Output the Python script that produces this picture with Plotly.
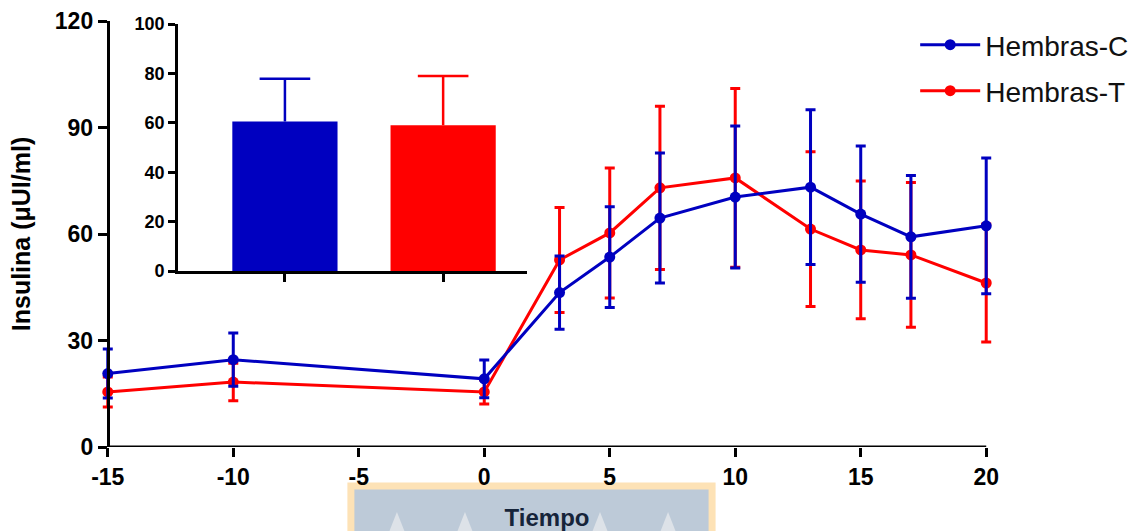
import plotly.graph_objects as go

# Time points (min) and insulin values (mean ± SEM)
tiempo = [-15, -10, 0, 3, 5, 7, 10, 13, 15, 17, 20]

hembras_c = [20.7, 24.6, 19.2, 43.5, 53.5, 64.5, 70.4, 73.2, 65.6, 59.2, 62.3]
hembras_c_sem = [6.9, 7.5, 5.3, 10.3, 14.2, 18.3, 20.0, 21.8, 19.2, 17.3, 19.1]

hembras_t = [15.5, 18.3, 15.5, 52.7, 60.3, 73.0, 75.8, 61.4, 55.5, 54.1, 46.2]
hembras_t_sem = [4.2, 5.3, 3.4, 14.8, 18.3, 23.0, 25.2, 21.8, 19.4, 20.4, 16.6]

x_ticks = [-15, -10, -5, 0, 5, 10, 15, 20]
x_ticktext = ["-15", "-10", "-5", "0", "5", "10", "15", "20"]
y_ticks = [0, 30, 60, 90, 120]

# Area under the curve (inset bars)
auc_pos = [0, 1]
auc_values = [60.5, 59.0]
auc_sem = [17.3, 19.9]
auc_ticks = [0, 20, 40, 60, 80, 100]

BLUE = "#0000c0"
RED = "#ff0000"
COLORS = [BLUE, RED]
FONT = "Liberation Sans, Arial, sans-serif"

X0, X1 = x_ticks[0], x_ticks[-1]
PAD = 0.35  # extra room so end caps of the error bars are not clipped

fig = go.Figure()

# Red series first so the blue one sits on top
fig.add_trace(go.Scatter(
    x=tiempo, y=hembras_t, name="Hembras-T", mode="lines+markers",
    line=dict(color=RED, width=3), marker=dict(color=RED, size=11),
    error_y=dict(type="data", array=hembras_t_sem, color=RED, thickness=3, width=5),
    cliponaxis=False, legend="legend2",
))
fig.add_trace(go.Scatter(
    x=tiempo, y=hembras_c, name="Hembras-C", mode="lines+markers",
    line=dict(color=BLUE, width=3), marker=dict(color=BLUE, size=11),
    error_y=dict(type="data", array=hembras_c_sem, color=BLUE, thickness=3, width=5),
    cliponaxis=False, legend="legend",
))

# Inset bar chart with upward-only error whiskers
CAP = 0.16  # cap half-width in category units
for xp, v, e, c in zip(auc_pos, auc_values, auc_sem, COLORS):
    fig.add_trace(go.Bar(
        x=[xp], y=[v], marker=dict(color=c, line=dict(width=0)),
        width=0.665, showlegend=False, xaxis="x2", yaxis="y2",
    ))
    fig.add_trace(go.Scatter(
        x=[xp, xp, None, xp - CAP, xp + CAP], y=[v, v + e, None, v + e, v + e],
        mode="lines", line=dict(color=c, width=2.5), showlegend=False,
        xaxis="x2", yaxis="y2", hoverinfo="skip",
    ))

W, H = 1144, 531
PX_PER_UNIT = (986 - 108) / (X1 - X0)
pad_px = PAD * PX_PER_UNIT
L, R, T, B = 108 - pad_px, W - 986 - pad_px, 21, 84
pw, ph = W - L - R, H - T - B

def px_x(px):
    return (px - L) / pw

def px_y(py):
    return (H - B - py) / ph

tick_common = dict(
    showgrid=False, zeroline=False, ticks="outside", tickcolor="black",
    tickwidth=3, ticklen=9, automargin=False,
    tickfont=dict(family=FONT, size=23, color="black", weight="bold"),
)

fig.update_layout(
    width=W, height=H,
    margin=dict(l=L, r=R, t=T, b=B, autoexpand=False),
    plot_bgcolor="white", paper_bgcolor="white",
    font=dict(family=FONT),
    barmode="overlay",
    xaxis=dict(
        range=[X0 - PAD, X1 + PAD], tickvals=x_ticks, ticktext=x_ticktext,
        showline=False, **tick_common,
        title=dict(text="Tiempo", font=dict(family=FONT, size=24, color="#16243a", weight="bold"),
                   standoff=26),
    ),
    yaxis=dict(
        range=[0, 120], tickvals=y_ticks, anchor="free", position=PAD / (X1 - X0 + 2 * PAD),
        showline=True, linecolor="black", linewidth=3, **tick_common,
        title=dict(text="Insulina (μUI/ml)", font=dict(family=FONT, size=25, color="black", weight="bold"),
                   standoff=16),
    ),
    xaxis2=dict(
        domain=[px_x(178), px_x(527)], anchor="y2", range=[-0.677, 1.53],
        tickvals=auc_pos, ticktext=["", ""], showgrid=False, zeroline=False,
        showline=True, linecolor="black", linewidth=2.5, automargin=False,
        ticks="outside", tickcolor="black", tickwidth=2.5, ticklen=8,
    ),
    yaxis2=dict(
        domain=[px_y(271), px_y(24)], anchor="x2", range=[0, 100],
        tickvals=auc_ticks, showgrid=False, zeroline=False,
        showline=True, linecolor="black", linewidth=2.5, automargin=False,
        ticks="outside", tickcolor="black", tickwidth=2.5, ticklen=7,
        tickfont=dict(family=FONT, size=18, color="black", weight="bold"),
    ),
    legend=dict(
        x=px_x(915), y=px_y(20), xanchor="left", yanchor="top",
        font=dict(family=FONT, size=28, color="#111111"),
        bgcolor="rgba(0,0,0,0)", itemwidth=60,
    ),
    legend2=dict(
        x=px_x(915), y=px_y(66), xanchor="left", yanchor="top",
        font=dict(family=FONT, size=28, color="#111111"),
        bgcolor="rgba(0,0,0,0)", itemwidth=60,
    ),
)

# Time axis line spanning exactly the first to the last tick
fig.add_shape(
    type="line", xref="x", yref="y", x0=X0, x1=X1, y0=0, y1=0,
    line=dict(color="black", width=3), layer="above",
)

# Watermark panel behind the axis title
fig.add_shape(
    type="rect", xref="paper", yref="paper",
    x0=px_x(351), x1=px_x(712), y0=px_y(560), y1=px_y(486),
    fillcolor="#bdcad8", line=dict(color="#fde2b6", width=7), layer="below",
)
for cx in [397, 465, 600, 668]:
    fig.add_shape(
        type="path", xref="paper", yref="paper", layer="below",
        path=f"M {px_x(cx - 9)},{px_y(535)} L {px_x(cx)},{px_y(512)} L {px_x(cx + 9)},{px_y(535)} Z",
        fillcolor="#dde2e8", line=dict(width=0),
    )

fig.write_html("out.html")
